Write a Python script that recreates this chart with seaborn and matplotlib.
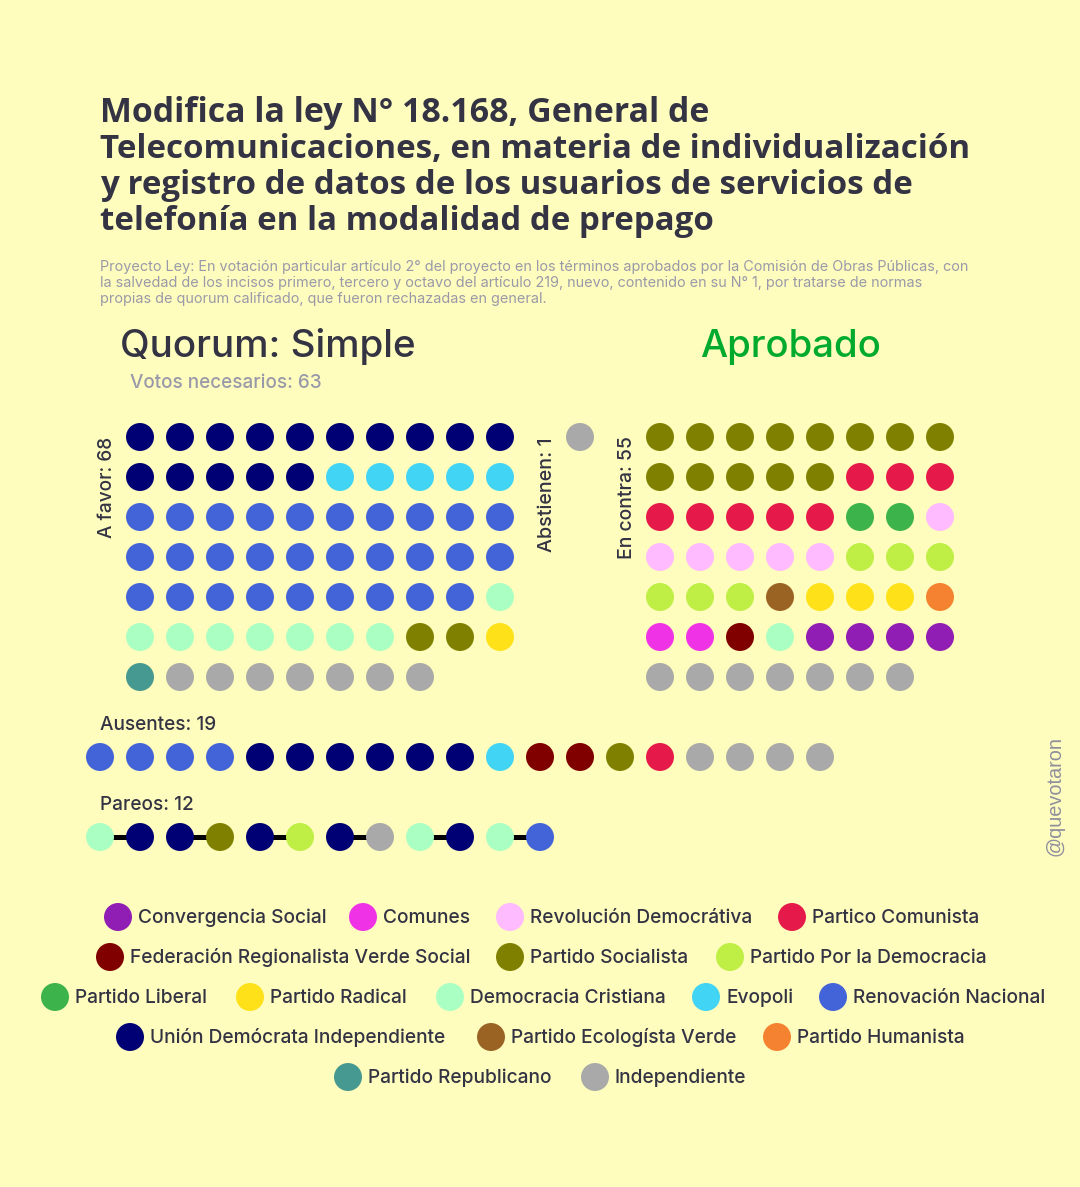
import matplotlib
matplotlib.use("Agg")
import matplotlib.pyplot as plt
import pandas as pd
import seaborn as sns

sns.set_theme(style="white")
plt.rcParams["font.family"] = ["Inter", "DejaVu Sans"]

BG = "#fefdbd"
DARK = "#333344"
GREY = "#9999aa"

TITLE = ["Modifica la ley N° 18.168, General de",
         "Telecomunicaciones, en materia de individualización",
         "y registro de datos de los usuarios de servicios de",
         "telefonía en la modalidad de prepago"]
TITLE_SIZES = [24.4, 23.9, 23.9, 23.75]
SUBTITLE = ["Proyecto Ley: En votación particular artículo 2° del proyecto en los términos aprobados por la Comisión de Obras Públicas, con",
            "la salvedad de los incisos primero, tercero y octavo del artículo 219, nuevo, contenido en su N° 1, por tratarse de normas",
            "propias de quorum calificado, que fueron rechazadas en general."]

COLORS = {
    "Convergencia Social": "#911eb4",
    "Comunes": "#f032e6",
    "Revolución Democrátiva": "#ffbbff",
    "Partico Comunista": "#e6194b",
    "Federación Regionalista Verde Social": "#800000",
    "Partido Socialista": "#808000",
    "Partido Por la Democracia": "#bfef45",
    "Partido Liberal": "#3cb44b",
    "Partido Radical": "#ffe119",
    "Democracia Cristiana": "#aaffc3",
    "Evopoli": "#42d4f4",
    "Renovación Nacional": "#4363d8",
    "Unión Demócrata Independiente": "#000075",
    "Partido Ecologísta Verde": "#9a6324",
    "Partido Humanista": "#f58231",
    "Partido Republicano": "#469990",
    "Independiente": "#a9a9a9",
}

A_FAVOR = [("Unión Demócrata Independiente", 15), ("Evopoli", 5), ("Renovación Nacional", 29),
           ("Democracia Cristiana", 8), ("Partido Socialista", 2), ("Partido Radical", 1),
           ("Partido Republicano", 1), ("Independiente", 7)]
ABSTIENEN = [("Independiente", 1)]
EN_CONTRA = [("Partido Socialista", 13), ("Partico Comunista", 8), ("Partido Liberal", 2),
             ("Revolución Democrátiva", 6), ("Partido Por la Democracia", 6),
             ("Partido Ecologísta Verde", 1), ("Partido Radical", 3), ("Partido Humanista", 1),
             ("Comunes", 2), ("Federación Regionalista Verde Social", 1),
             ("Democracia Cristiana", 1), ("Convergencia Social", 4), ("Independiente", 7)]
AUSENTES = [("Renovación Nacional", 4), ("Unión Demócrata Independiente", 6), ("Evopoli", 1),
            ("Federación Regionalista Verde Social", 2), ("Partido Socialista", 1),
            ("Partico Comunista", 1), ("Independiente", 4)]
PAREOS = [("Democracia Cristiana", 1), ("Unión Demócrata Independiente", 2),
          ("Partido Socialista", 1), ("Unión Demócrata Independiente", 1),
          ("Partido Por la Democracia", 1), ("Unión Demócrata Independiente", 1),
          ("Independiente", 1), ("Democracia Cristiana", 1),
          ("Unión Demócrata Independiente", 1), ("Democracia Cristiana", 1),
          ("Renovación Nacional", 1)]

LEGEND_ROWS = [list(COLORS)[:4], list(COLORS)[4:7], list(COLORS)[7:12],
               list(COLORS)[12:15], list(COLORS)[15:]]
LEGEND_X = [[118, 363, 510, 792], [110, 510, 730], [55, 250, 450, 706, 833],
            [130, 491, 777], [348, 595]]

STEP = 40


def block(groups, x0, y0, ncol):
    """Expand (party, count) pairs into a grid of seats, row by row."""
    names = [name for name, n in groups for _ in range(n)]
    return pd.DataFrame({
        "x": [x0 + STEP * (i % ncol) for i in range(len(names))],
        "y": [y0 + STEP * (i // ncol) for i in range(len(names))],
        "partido": names,
    })


fig = plt.figure(figsize=(10.8, 11.87), dpi=100, facecolor=BG)
ax = fig.add_axes([0, 0, 1, 1], facecolor=BG)

pareos = block(PAREOS, 100, 837, 12)
for i in range(0, len(pareos), 2):
    ax.plot(pareos["x"].iloc[i:i + 2], pareos["y"].iloc[i:i + 2],
            color="black", lw=3.6, zorder=1, solid_capstyle="butt")

seats = pd.concat([
    block(A_FAVOR, 140, 437, 10),
    block(ABSTIENEN, 580, 437, 1),
    block(EN_CONTRA, 660, 437, 8),
    block(AUSENTES, 100, 757, 19),
    pareos,
])
legend_df = pd.DataFrame([
    {"x": x, "y": 917 + STEP * r, "partido": name}
    for r, (row, xs) in enumerate(zip(LEGEND_ROWS, LEGEND_X))
    for name, x in zip(row, xs)
])
sns.scatterplot(data=pd.concat([seats, legend_df]), x="x", y="y", hue="partido",
                palette=COLORS, s=406, linewidth=0, legend=False, zorder=2, ax=ax)

ax.set_xlim(0, 1080)
ax.set_ylim(1187, 0)
ax.axis("off")

for _, row in legend_df.iterrows():
    ax.text(row["x"] + 20, row["y"] + 6, row["partido"], color=DARK, fontsize=13.8,
            va="baseline", ha="left", fontweight="medium")

for i, line in enumerate(TITLE):
    ax.text(100, 122 + 36 * i, line, color=DARK, fontsize=TITLE_SIZES[i], fontweight="bold",
            family="Open Sans", va="baseline")
for i, line in enumerate(SUBTITLE):
    ax.text(100, 271 + 16 * i, line, color=GREY, fontsize=10.4, va="baseline")

ax.text(120, 357, "Quorum: Simple", color=DARK, fontsize=27.8, va="baseline", fontweight="medium")
ax.text(700, 357, "Aprobado", color="#00aa2d", fontsize=27.6, va="baseline", fontweight="medium")
ax.text(130, 388, "Votos necesarios: 63", color=GREY, fontsize=13.6, va="baseline",
        fontweight="medium")
ax.text(100, 730, "Ausentes: 19", color=DARK, fontsize=13.7, va="baseline", fontweight="medium")
ax.text(100, 810, "Pareos: 12", color=DARK, fontsize=13.7, va="baseline", fontweight="medium")
ax.text(107, 487, "A favor: 68", color=DARK, fontsize=13.7, rotation=90, va="center",
        ha="center", fontweight="medium")
ax.text(547, 495, "Abstienen: 1", color=DARK, fontsize=14.2, rotation=90, va="center",
        ha="center", fontweight="medium")
ax.text(627, 498, "En contra: 55", color=DARK, fontsize=14, rotation=90, va="center",
        ha="center", fontweight="medium")
ax.text(1055, 796, "@quevotaron", color="#8f8f9f", fontsize=14.3, rotation=90, va="center",
        ha="center", family="Liberation Sans")

fig.savefig("out.png", dpi=100, facecolor=BG)
plt.close(fig)
